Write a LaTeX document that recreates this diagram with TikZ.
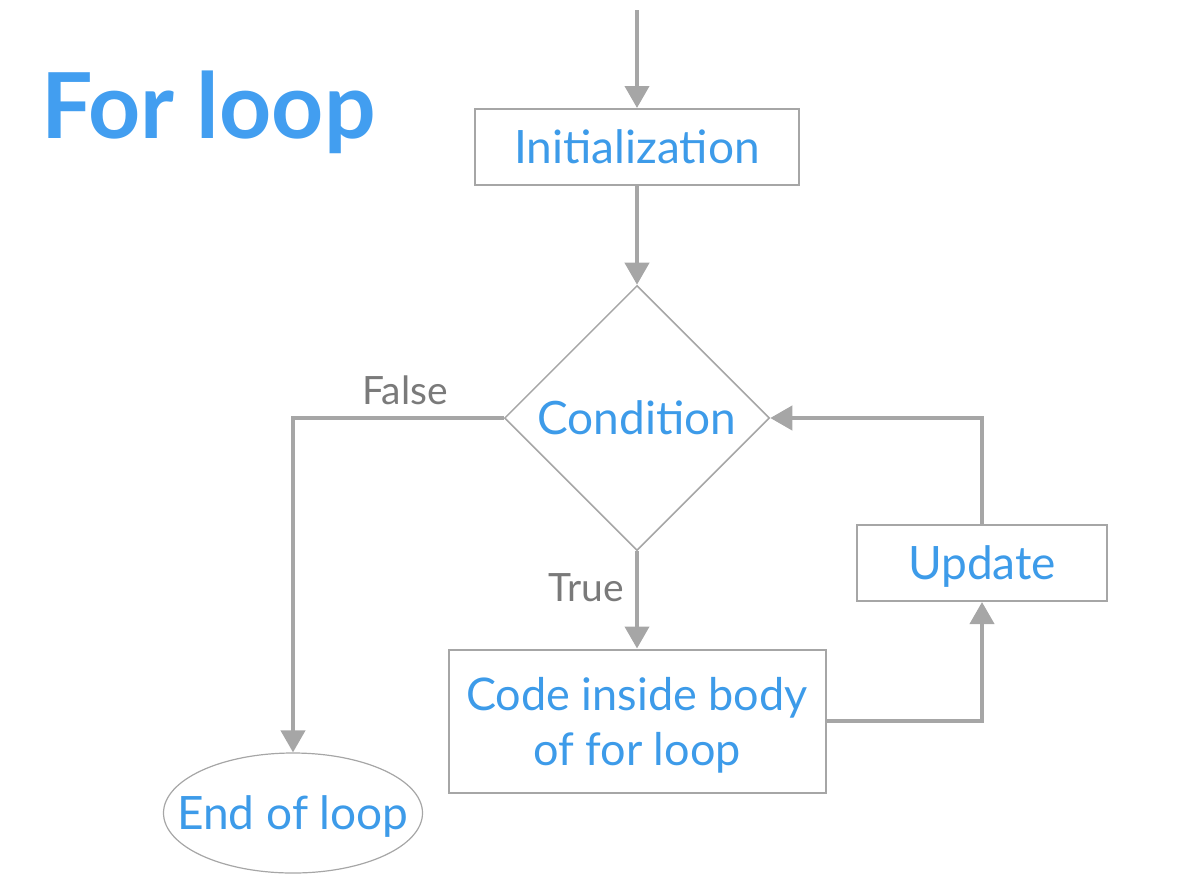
\documentclass[tikz,border=0pt]{standalone}
\usepackage{fontspec}
\setmainfont{Lato}
\usetikzlibrary{positioning, arrows.meta, shapes.geometric}

\definecolor{flowblue}{RGB}{61,155,233}
\definecolor{titleblue}{RGB}{66,158,240}
\definecolor{flowgray}{RGB}{166,166,166}
\definecolor{labelgray}{RGB}{122,122,122}

\begin{document}
\begin{tikzpicture}[x=1pt, y=-1pt,
    box/.style={draw=flowgray, line width=2pt, text=flowblue, inner sep=0pt,
      text depth=0pt, font=\fontsize{46}{55}\selectfont},
    flow/.style={draw=flowgray, line width=4pt,
      -{Triangle[width=24pt, length=22pt]}},
    branch/.style={text=labelgray, font=\fontsize{39}{42}\selectfont}]

      \useasboundingbox (0,0) rectangle (1198,892);

      % Draw the title.
      \node[anchor=base west, text=titleblue, inner sep=0pt,
        font=\fontsize{91}{96}\selectfont\bfseries] (title) at (41,138) {For loop};

      % Draw the blocks of the flowchart.
      \coordinate (start) at (637,10);
      \node[box, minimum width=324pt, minimum height=76pt] (init) at (637,147) {Initialization};
      \node[box, diamond, minimum size=265pt, line width=1.5pt] (cond) at (637,418) {Condition};
      \node[box, align=center, minimum width=377pt, minimum height=143pt,
        font=\fontsize{45}{55}\selectfont] (body) at (637,721) {Code inside body\\of for loop};
      \node[box, minimum width=250pt, minimum height=76pt] (upd) at (982,563) {Update};
      \node[box, ellipse, minimum width=259pt, minimum height=120pt, line width=1.2pt] (end) at (293,813) {\makebox[0pt]{End of loop}};

      % Draw the arrows between the blocks.
      \draw[flow] (start) -- (init);
      \draw[flow] (init) -- (cond);
      \draw[flow] (cond.south) -- (body.north);
      \draw[flow] (body.east) -| (upd.south);
      \draw[flow] (upd.north) |- (cond.east);
      \draw[flow] (cond.west) -| (end.north);

      % Draw the branch labels.
      \node[branch] (false) at (405,390) {False};
      \node[branch] (true) at (586,588) {True};
    \end{tikzpicture}
\end{document}
